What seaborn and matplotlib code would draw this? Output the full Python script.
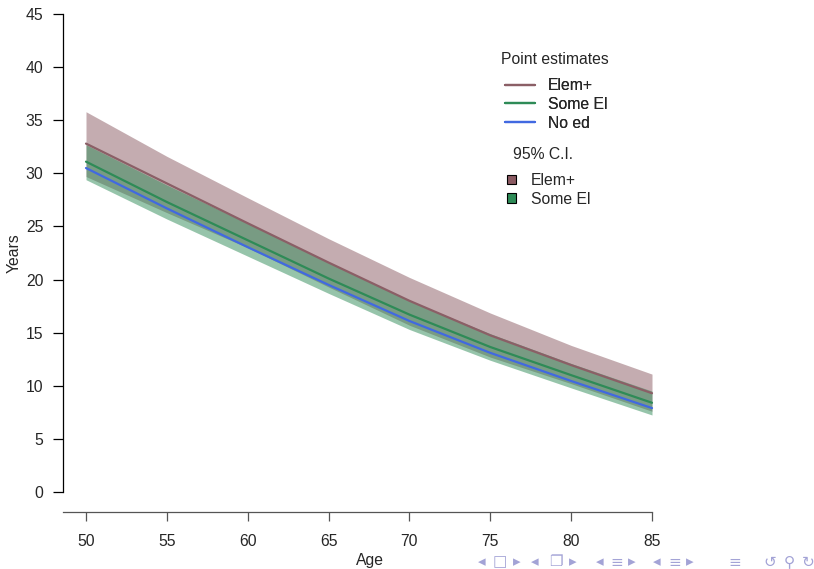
import matplotlib
matplotlib.use("Agg")
import matplotlib.pyplot as plt
from matplotlib.lines import Line2D
from matplotlib.patches import Patch
import seaborn as sns
import pandas as pd

# Remaining life expectancy by age and education group
ages = [50, 55, 60, 65, 70, 75, 80, 85]
elem_est = [32.8, 29.05, 25.3, 21.6, 18.0, 14.75, 11.95, 9.3]
elem_hi = [35.8, 31.6, 27.7, 23.85, 20.2, 16.85, 13.8, 11.1]
elem_lo = [29.7, 26.3, 23.0, 19.3, 15.7, 12.7, 10.2, 7.6]
some_est = [31.1, 27.3, 23.7, 20.1, 16.7, 13.65, 11.0, 8.4]
some_hi = [32.7, 28.9, 25.3, 21.6, 18.0, 14.9, 12.1, 9.5]
some_lo = [29.4, 25.7, 22.2, 18.7, 15.3, 12.4, 9.8, 7.25]
noed_est = [30.5, 26.7, 23.05, 19.5, 16.1, 13.1, 10.45, 7.9]

groups = ["Elem+", "Some El", "No ed"]
ci_groups = ["Elem+", "Some El"]
line_colors = {"Elem+": "#8b5f66", "Some El": "#2e8b57", "No ed": "#4169e1"}
band_colors = {"Elem+": "#8b5a62", "Some El": "#2e8b57"}

sns.set_style("white")
plt.rcParams["font.family"] = ["Liberation Sans", "DejaVu Sans"]

W, H = 814, 569
fs = 11.3
fig = plt.figure(figsize=(W / 100, H / 100), dpi=100)


def fx(px):
    return px / W


def fy(py):
    return 1 - py / H


# axes placed in pixel terms
left_px, right_px, bottom_px, top_px = 63, 676, 512, 5
ax = fig.add_axes([fx(left_px), fy(bottom_px),
                   (right_px - left_px) / W, (bottom_px - top_px) / H])
xpx = (652 - 86) / 35.0
ypx = (492 - 14) / 45.0
ax.set_xlim(50 - (86 - left_px) / xpx, 85 + (right_px - 652) / xpx)
ax.set_ylim(0 - (bottom_px - 492) / ypx, 45 + (14 - top_px) / ypx)

# confidence bands
ax.fill_between(ages, elem_lo, elem_hi, color=band_colors["Elem+"],
                alpha=0.5, linewidth=0)
ax.fill_between(ages, some_lo, some_hi, color=band_colors["Some El"],
                alpha=0.5, linewidth=0)

# point estimates
df = pd.DataFrame({
    "Age": ages * 3,
    "Years": elem_est + some_est + noed_est,
    "group": [g for g in groups for _ in ages],
})
sns.lineplot(data=df, x="Age", y="Years", hue="group", hue_order=groups,
             palette=line_colors, linewidth=1.6, legend=False, ax=ax,
             estimator=None)

# axes styling in base-graphics fashion
for s in ["top", "right"]:
    ax.spines[s].set_visible(False)
ax.spines["left"].set_bounds(0, 45)
ax.spines["left"].set_color("black")
ax.spines["left"].set_linewidth(0.9)
ax.spines["bottom"].set_bounds(ax.get_xlim()[0], 85)
ax.spines["bottom"].set_color("#555555")
ax.spines["bottom"].set_linewidth(0.9)
ax.set_xticks([50, 55, 60, 65, 70, 75, 80, 85])
ax.set_yticks(range(0, 46, 5))
ax.tick_params(axis="y", direction="out", length=7.2, width=0.9,
               color="black", pad=7, labelsize=fs, left=True)
ax.tick_params(axis="x", direction="out", length=6.5, width=0.9,
               color="#555555", pad=9, labelsize=fs, bottom=True)
ax.set_xlabel("")
ax.set_ylabel("")
fig.text(fx(369.5), fy(561), "Age", ha="center", va="center", fontsize=fs)
fig.text(fx(14), fy(253), "Years", ha="center", va="center",
         rotation=90, fontsize=fs)

# legends: titles as text, entries as legends without frames
fpx = fs * 100 / 72
fig.text(fx(554.5), fy(60), "Point estimates", ha="center", va="center",
         fontsize=fs)
line_handles = [Line2D([], [], color=line_colors[g], linewidth=1.6) for g in groups]
leg1 = fig.legend(line_handles, groups, loc="upper left",
                  bbox_to_anchor=(fx(505), fy(78)),
                  frameon=False, fontsize=fs, borderpad=0, borderaxespad=0,
                  handlelength=30 / fpx, handletextpad=13 / fpx,
                  labelspacing=0.24)
fig.text(fx(513), fy(155), "95% C.I.", ha="left", va="center", fontsize=fs)
patch_handles = [Patch(facecolor=band_colors[g], edgecolor="black", linewidth=0.8)
                 for g in ci_groups]
leg2 = fig.legend(patch_handles, ci_groups, loc="upper left",
                  bbox_to_anchor=(fx(507), fy(173)),
                  frameon=False, fontsize=fs, borderpad=0, borderaxespad=0,
                  handlelength=9 / fpx, handleheight=9 / fpx,
                  handletextpad=15 / fpx, labelspacing=0.24)
fig.add_artist(leg1)

# slide navigation symbols
nav_color = "#a3a3d6"
nav = [(482, "◂"), (500, "□"), (517, "▸"),
       (535, "◂"), (556, "❐"), (573, "▸"),
       (600, "◂"), (617, "≡"), (632, "▸"),
       (657, "◂"), (675, "≡"), (690, "▸"),
       (735, "≡"), (770, "↺"), (789, "⚲"), (808, "↻")]
for x, ch in nav:
    fig.text(fx(x), fy(562), ch, ha="center", va="center",
             fontsize=11, color=nav_color,
             family=["DejaVu Sans", "Noto Sans CJK SC"])

fig.savefig("out.png", dpi=100)
